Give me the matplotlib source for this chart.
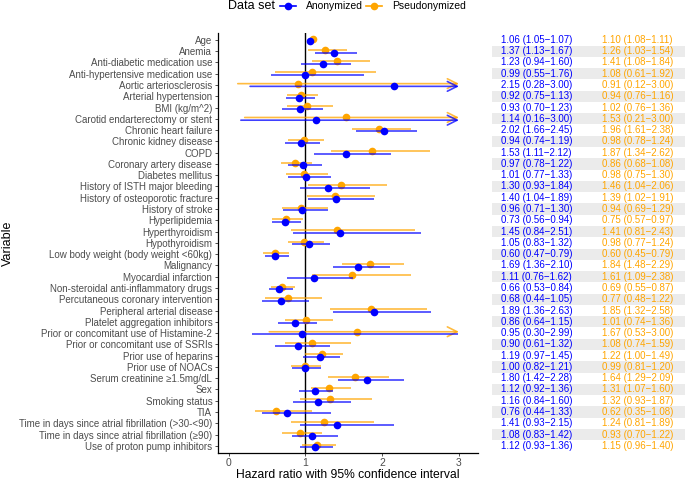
import matplotlib
matplotlib.use("Agg")
import matplotlib.pyplot as plt
from matplotlib.lines import Line2D
from matplotlib.patches import Rectangle

plt.rcParams['font.family'] = ['Liberation Sans', 'DejaVu Sans']

variables = [
    "Age", "Anemia", "Anti-diabetic medication use", "Anti-hypertensive medication use",
    "Aortic arteriosclerosis", "Arterial hypertension", "BMI (kg/m^2)",
    "Carotid endarterectomy or stent", "Chronic heart failure", "Chronic kidney disease",
    "COPD", "Coronary artery disease", "Diabetes mellitus", "History of ISTH major bleeding",
    "History of osteoporotic fracture", "History of stroke", "Hyperlipidemia",
    "Hyperthyroidism", "Hypothyroidism", "Low body weight (body weight <60kg)",
    "Malignancy", "Myocardial infarction", "Non-steroidal anti-inflammatory drugs",
    "Percutaneous coronary intervention", "Peripheral arterial disease",
    "Platelet aggregation inhibitors", "Prior or concomitant use of Histamine-2",
    "Prior or concomitant use of SSRIs", "Prior use of heparins", "Prior use of NOACs",
    "Serum creatinine \u22651.5mg/dL", "Sex", "Smoking status", "TIA",
    "Time in days since atrial fibrillation (>30-<90)",
    "Time in days since atrial fibrillation (\u226590)", "Use of proton pump inhibitors",
]

# Anonymized: hazard ratio, lower, upper
anon_hr = [1.06, 1.37, 1.23, 0.99, 2.15, 0.92, 0.93, 1.14, 2.02, 0.94, 1.53, 0.97, 1.01,
           1.30, 1.40, 0.96, 0.73, 1.45, 1.05, 0.60, 1.69, 1.11, 0.66, 0.68, 1.89, 0.86,
           0.95, 0.90, 1.19, 1.00, 1.80, 1.12, 1.16, 0.76, 1.41, 1.08, 1.12]
anon_lo = [1.05, 1.13, 0.94, 0.55, 0.28, 0.75, 0.70, 0.16, 1.66, 0.74, 1.11, 0.78, 0.77,
           0.93, 1.04, 0.71, 0.56, 0.84, 0.83, 0.47, 1.36, 0.76, 0.53, 0.44, 1.36, 0.64,
           0.30, 0.61, 0.97, 0.82, 1.42, 0.92, 0.84, 0.44, 0.93, 0.83, 0.93]
anon_hi = [1.07, 1.67, 1.60, 1.76, 3.00, 1.13, 1.23, 3.00, 2.45, 1.19, 2.12, 1.22, 1.33,
           1.84, 1.89, 1.30, 0.94, 2.51, 1.32, 0.79, 2.10, 1.62, 0.84, 1.05, 2.63, 1.15,
           2.99, 1.32, 1.45, 1.21, 2.28, 1.36, 1.60, 1.33, 2.15, 1.42, 1.36]

# Pseudonymized
pseu_hr = [1.10, 1.26, 1.41, 1.08, 0.91, 0.94, 1.02, 1.53, 1.96, 0.98, 1.87, 0.86, 0.98,
           1.46, 1.39, 0.94, 0.75, 1.41, 0.98, 0.60, 1.84, 1.61, 0.69, 0.77, 1.85, 1.01,
           1.67, 1.08, 1.22, 0.99, 1.64, 1.31, 1.32, 0.62, 1.24, 0.93, 1.15]
pseu_lo = [1.08, 1.03, 1.08, 0.61, 0.12, 0.76, 0.76, 0.21, 1.61, 0.78, 1.34, 0.68, 0.75,
           1.04, 1.02, 0.69, 0.57, 0.81, 0.77, 0.45, 1.48, 1.09, 0.55, 0.48, 1.32, 0.74,
           0.53, 0.74, 1.00, 0.81, 1.29, 1.07, 0.93, 0.35, 0.81, 0.70, 0.96]
pseu_hi = [1.11, 1.54, 1.84, 1.92, 3.00, 1.16, 1.36, 3.00, 2.38, 1.24, 2.62, 1.08, 1.30,
           2.06, 1.91, 1.29, 0.97, 2.43, 1.24, 0.79, 2.29, 2.38, 0.87, 1.22, 2.58, 1.36,
           3.00, 1.59, 1.49, 1.20, 2.09, 1.60, 1.87, 1.08, 1.89, 1.22, 1.40]

BLUE = "#0000FF"
ORANGE = "#FFA500"

fig = plt.figure(figsize=(6.85, 4.8), dpi=100)
ax = fig.add_axes([0.318, 0.057, 0.380, 0.874])

n = len(variables)
ys = list(range(n))  # row 0 at top after inversion

def draw_series(hr, lo, hi, color, off, z):
    for i in range(n):
        y = ys[i] + off
        if hi[i] >= 3.0:
            ax.annotate("", xy=(hi[i], y), xytext=(lo[i], y),
                        arrowprops=dict(arrowstyle="->,head_length=0.7,head_width=0.35",
                                        color=color, lw=1.2, alpha=0.75,
                                        shrinkA=0, shrinkB=0), zorder=z)
        else:
            ax.plot([lo[i], hi[i]], [y, y], color=color, lw=1.2, alpha=0.75,
                    solid_capstyle="butt", zorder=z)
    ax.plot(hr, [y + off for y in ys], "o", color=color, ms=5.5, mec="none", zorder=z + 1)

ax.axvline(1, color="black", lw=1.0, zorder=1)
draw_series(pseu_hr, pseu_lo, pseu_hi, ORANGE, -0.12, 2)
draw_series(anon_hr, anon_lo, anon_hi, BLUE, 0.12, 4)

ax.set_ylim(n - 0.4, -0.6)
ax.set_xlim(-0.14, 3.25)
ax.set_yticks(ys)
ax.set_yticklabels(variables)
ax.set_xticks([0, 1, 2, 3])
ax.tick_params(axis="both", labelsize=7, colors="#333333", length=2.5, width=0.6, pad=1.5)
ax.tick_params(axis="x", labelsize=7.5, pad=1.5)
for lab in ax.get_yticklabels() + ax.get_xticklabels():
    lab.set_color("#4D4D4D")
ax.spines["top"].set_visible(False)
ax.spines["right"].set_visible(False)
ax.spines["left"].set_linewidth(0.9)
ax.spines["bottom"].set_linewidth(0.9)
ax.set_xlabel("Hazard ratio with 95% confidence interval", fontsize=8.7, labelpad=0.5)
ax.set_ylabel("Variable", fontsize=9, labelpad=4)

# estimate table on the right with alternating bands
trans = ax.get_yaxis_transform()
for i in range(n):
    if i % 2 == 1:
        ax.add_patch(Rectangle((1.054, ys[i] - 0.5), 0.75, 1.0, transform=trans,
                               facecolor="#EBEBEB", edgecolor="none", clip_on=False, zorder=0))
    ax.text(1.086, ys[i], f"{anon_hr[i]:.2f} ({anon_lo[i]:.2f}\u2212{anon_hi[i]:.2f})",
            transform=trans, color=BLUE, fontsize=7, va="center", ha="left", clip_on=False)
    ax.text(1.475, ys[i], f"{pseu_hr[i]:.2f} ({pseu_lo[i]:.2f}\u2212{pseu_hi[i]:.2f})",
            transform=trans, color=ORANGE, fontsize=7, va="center", ha="left", clip_on=False)

# legend across the top: title then two keys
W, H = 685.0, 480.0
ly = 1 - 6 / H
fig.text(228 / W, ly, "Data set", fontsize=9, va="center", ha="left")
for cx, tx, col, lab in [(288, 306, BLUE, "Anonymized"), (374, 392, ORANGE, "Pseudonymized")]:
    fig.add_artist(Line2D([(cx - 8) / W, (cx + 8) / W], [ly, ly], color=col, lw=1.2,
                          transform=fig.transFigure))
    fig.add_artist(Line2D([cx / W], [ly], marker="o", ms=5.5, color=col, mec="none",
                          transform=fig.transFigure))
    fig.text(tx / W, ly, lab, fontsize=7.5, va="center", ha="left")

fig.savefig("out.png", dpi=100)
